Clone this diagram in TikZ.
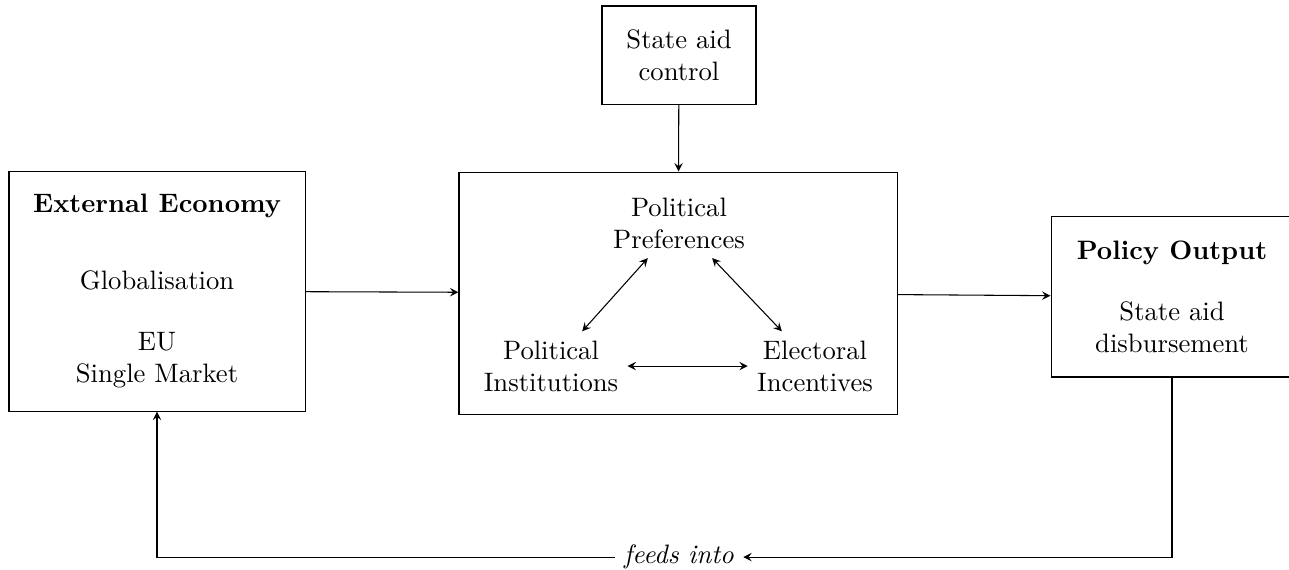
\documentclass[tikz,border=0pt]{standalone}
\begin{document}
\begin{tikzpicture}[box/.style={draw,align=center},>=stealth]
\useasboundingbox (0,0) rectangle (17,7.505);
\node[box,minimum width=2.031cm,minimum height=1.293cm](ctrl) at (8.955,6.779){State aid\\control};
\node[box,minimum width=3.904cm,minimum height=3.165cm](ext) at (2.071,3.665){\textbf{External Economy}\\[17pt]Globalisation\\[11pt]EU\\Single Market};
\node[box,minimum width=5.777cm,minimum height=3.192cm](mid) at (8.942,3.640){};
\node[box,minimum width=3.191cm,minimum height=2.123cm](out) at (15.457,3.594){\textbf{Policy Output}\\[11pt]State aid\\disbursement};
\node[align=center](pref) at (8.955,4.560){Political\\Preferences};
\node[align=center](inst) at (7.267,2.677){Political\\Institutions};
\node[align=center](elec) at (10.749,2.677){Electoral\\Incentives};
\node(feeds) at (8.955,0.158){\textit{feeds into}};
\draw[->](ctrl)--(mid);
\draw[->](ext)--(mid);
\draw[->](mid)--(out);
\draw[<->](pref)--(inst);
\draw[<->](pref)--(elec);
\draw[<->](inst)--(elec);
\draw[->](out)|-(feeds);
\draw[->](feeds)-|(ext);
\end{tikzpicture}
\end{document}
